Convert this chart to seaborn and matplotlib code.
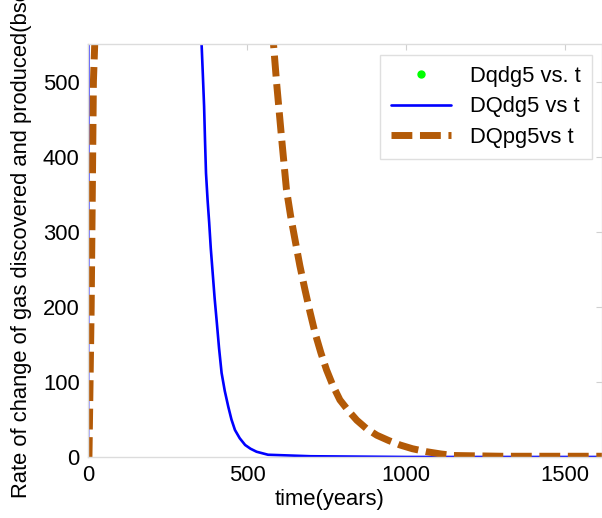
import numpy as np
import pandas as pd
import matplotlib
matplotlib.use("Agg")
import matplotlib.pyplot as plt
import seaborn as sns

# time (years) and rates
t_dqdg5 = [0, 1, 2, 300, 357, 361, 365, 368, 371, 376, 381, 386, 392, 398, 405, 412, 420, 430, 441,
           451, 462, 477, 494, 511, 530, 548, 566, 700, 1000, 1300, 1620]
dqdg5 = [0, 400, 2000, 2000, 551, 510, 467, 420, 378, 342, 312, 278, 245, 212, 179, 145, 112, 88, 67,
         50, 36, 25, 16, 11, 7, 5, 3, 1, 0, 0, 0]

t_dqpg5 = [0, 3, 10, 17, 22, 30, 500, 583, 593, 609, 624, 637, 651, 666, 682, 698, 714, 732, 750,
           770, 792, 818, 845, 875, 908, 945, 981, 1020, 1065, 1110, 1150, 1300, 1620]
dqpg5 = [0, 0, 200, 500, 560, 900, 900, 551, 498, 423, 356, 321, 289, 255, 223, 193, 165, 139, 116,
         95, 76, 62, 49, 38, 29, 22, 16, 11, 7, 4, 2, 1, 1]

# green point series: nothing of it falls inside the visible window
t_dq_pts = []
dq_pts = []

labels = ["Dqdg5 vs. t", "DQdg5 vs t", "DQpg5vs t"]
x_ticks = [0, 500, 1000, 1500]
y_ticks = [0, 100, 200, 300, 400, 500]

fs = 15.8

sns.set_style("white")
plt.rcParams["font.family"] = ["Liberation Sans", "DejaVu Sans"]
plt.rcParams["font.size"] = fs
plt.rcParams["text.color"] = "black"

fig = plt.figure(figsize=(6.02, 5.18), dpi=100)
ax = fig.add_axes([88 / 602, 61 / 518, 514 / 602, 413 / 518])

ax.plot(t_dq_pts, dq_pts, "o", color="#00ff00", markersize=5, label=labels[0])

df_d = pd.DataFrame({"t": t_dqdg5, "q": dqdg5})
df_p = pd.DataFrame({"t": t_dqpg5, "q": dqpg5})
sns.lineplot(data=df_d, x="t", y="q", sort=False, color="#0000ff", linewidth=1.9, label=labels[1], ax=ax)
sns.lineplot(data=df_p, x="t", y="q", sort=False, color="#b35a07", linewidth=5, label=labels[2], ax=ax)
ax.lines[-1].set_dashes((3, 1.1))

ax.set_xlim(0, 1616)
ax.set_ylim(0, 550)
ax.set_xticks(x_ticks)
ax.set_yticks(y_ticks)
ax.set_xlabel("")
ax.set_ylabel("")
ax.tick_params(direction="in", length=4, color="#d0d0d0", width=0.8, top=True, right=True,
               labelsize=fs, labelcolor="black", pad=6)
for sp in ax.spines.values():
    sp.set_color("#dcdcdc")
    sp.set_linewidth(1.0)

leg = ax.legend(loc="upper right", bbox_to_anchor=(0.9805, 0.973), borderaxespad=0,
                fancybox=False, frameon=True, edgecolor="#d8d8d8", fontsize=fs,
                handlelength=2.7, handletextpad=0.9, labelspacing=0.42, borderpad=0.5)
leg.get_frame().set_linewidth(1.0)
leg.get_lines()[2].set_dashes((3, 1.1))
for txt in leg.get_texts():
    txt.set_color("black")

fig.text(22 / 602, 20 / 518, "Rate of change of gas discovered and produced(bscf/yr)",
         rotation=90, ha="center", va="bottom", fontsize=fs, color="black")
fig.text(330 / 602, (518 - 489) / 518, "time(years)", ha="center", va="top", fontsize=fs,
         color="black")

fig.savefig("out.png", dpi=100)
